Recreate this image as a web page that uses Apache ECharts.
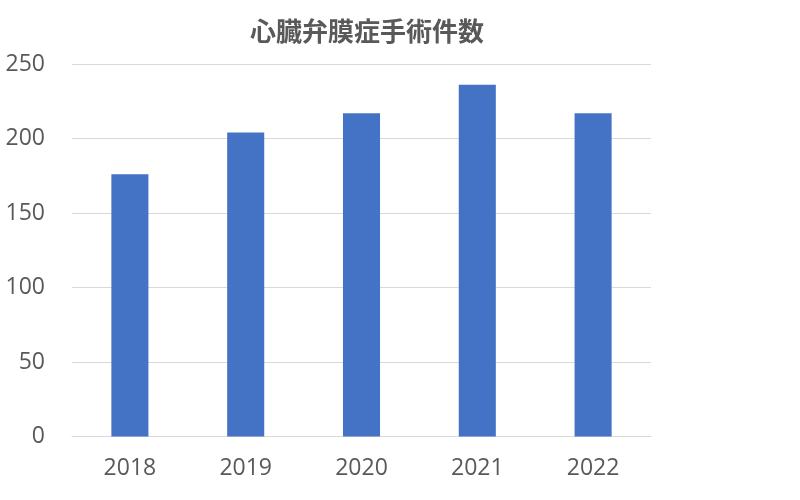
<!DOCTYPE html>
<html>
<head>
<meta charset="utf-8">
<script src="https://cdn.jsdelivr.net/npm/echarts@6/dist/echarts.min.js"></script>
<style>html,body{margin:0;padding:0;background:#fff}#c{width:800px;height:500px}</style>
</head>
<body>
<div id="c"></div>
<script>
const titleText = '心臓弁膜症手術件数';
const categories = ['2018', '2019', '2020', '2021', '2022'];
const values = [176, 204, 217, 236, 217];

const chart = echarts.init(document.getElementById('c'));
chart.setOption({
  animation: false,
  backgroundColor: '#ffffff',
  title: {
    text: titleText,
    left: 362, top: 13, textAlign: 'center',
    textStyle: { fontFamily: 'Noto Sans CJK JP', fontSize: 26, fontWeight: 'bold', color: '#595959' }
  },
  grid: { left: 72, right: 149, top: 64, bottom: 63.5, containLabel: false },
  xAxis: {
    type: 'category', data: categories,
    axisLine: { lineStyle: { color: '#d9d9d9', width: 1 } },
    axisTick: { show: false },
    axisLabel: { fontFamily: 'Open Sans', fontSize: 23, color: '#595959', margin: 20 }
  },
  yAxis: {
    type: 'value', min: 0, max: 250, interval: 50,
    axisLine: { show: false }, axisTick: { show: false },
    splitLine: { lineStyle: { color: '#d9d9d9', width: 1 } },
    axisLabel: { fontFamily: 'Open Sans', fontSize: 23, color: '#595959', margin: 27 }
  },
  series: [{
    type: 'bar', data: values, barWidth: '32%',
    itemStyle: { color: '#4472C4' }
  }]
});
</script>
</body>
</html>
